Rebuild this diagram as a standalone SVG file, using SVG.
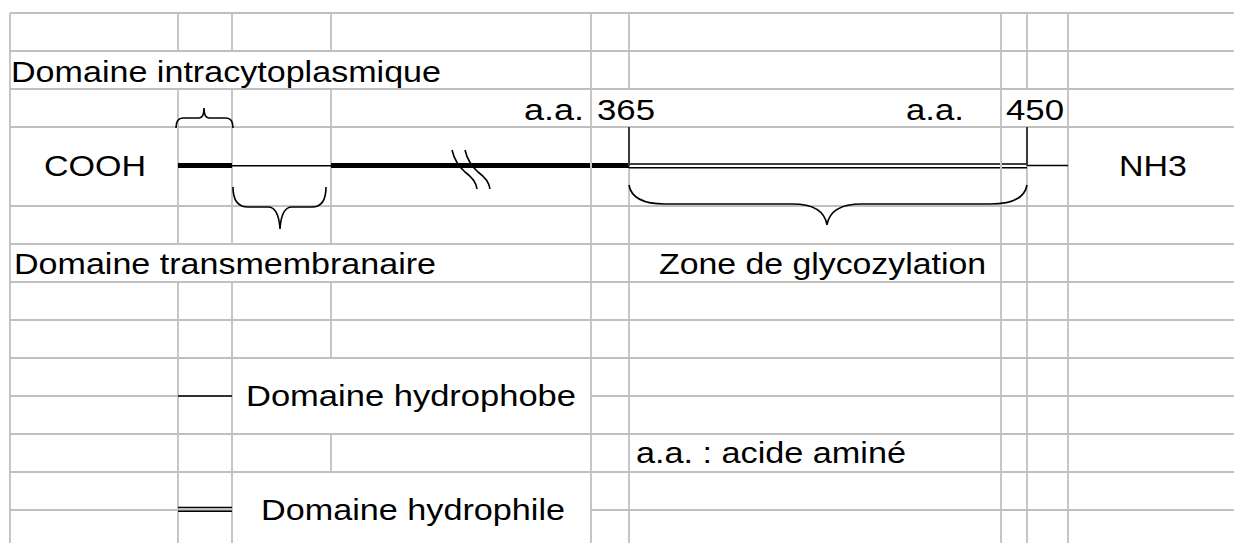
<svg xmlns="http://www.w3.org/2000/svg" width="1234" height="543" viewBox="0 0 1234 543">
<style>
.g{stroke:#c0c0c0;stroke-width:1.8;fill:none}
.m{fill:#fff;stroke:none}
.k{stroke:#000;fill:none}
.tick{stroke:#3a3a3a;stroke-width:2;fill:none}
text{font-family:"Liberation Sans",Arial,sans-serif;font-size:29px;fill:#000}
</style>
<rect width="1234" height="543" fill="#fff"/>
<g id="grid">
<path class="g" d="M10,13V543M178,13V543M232,13V543M331,13V543M591,13V543M629,13V543M1001,13V543M1027,13V543M1068,13V543"/>
<path class="g" d="M10,13H1234M10,51H1234M10,89H1234M10,127H1234M10,206H1234M10,244H1234M10,282H1234M10,320H1234M10,358H1234M10,396H1234M10,434H1234M10,472H1234M10,510H1234"/>
<rect class="m" x="12" y="52" width="437" height="36"/>
<rect class="m" x="620" y="90" width="20" height="36"/>
<rect class="m" x="1020" y="90" width="14" height="36"/>
<rect class="m" x="12" y="245" width="437" height="36"/>
<rect class="m" x="233" y="359" width="357" height="74"/>
<rect class="m" x="233" y="473" width="357" height="70"/>
</g>
<g id="connectors">
<line class="k" x1="178" y1="165.5" x2="232" y2="165.5" stroke-width="5"/>
<line class="k" x1="232" y1="165.7" x2="331" y2="165.7" stroke-width="1.6"/>
<line class="k" x1="331" y1="165.5" x2="590" y2="165.5" stroke-width="5"/>
<line class="k" x1="592" y1="165.5" x2="629" y2="165.5" stroke-width="5"/>
<path class="k" stroke-width="1.6" d="M629,164H1000M1002,164H1027M629,167.8H1000M1002,167.8H1027"/>
<line class="k" x1="1027" y1="165.5" x2="1068" y2="165.5" stroke-width="1.6"/>
<path class="tick" d="M629,127V166M1027,127V166"/>
<path class="k" stroke-width="1.6" d="M452,150 Q455,163 465,172 Q476,180 477,189"/>
<path class="k" stroke-width="1.6" d="M465,150 Q468,163 478,172 Q489,180 490,189"/>
<path class="k" stroke-width="1.6" d="M176,128 C176,121 178,118 183,118 L199,118 C202,118 204,114 204,108 C204,114 206,118 209,118 L226,118 C231,118 233,121 233,128"/>
<path class="k" stroke-width="1.6" d="M233,187 C233,200 238,207 248,207 L268,207 C275,207 279,213 280,229 C281,213 285,207 292,207 L312,207 C322,207 326,200 326,187"/>
<path class="k" stroke-width="1.6" d="M629,185 C631,197 642,204 665,204 L792,204 C815,204 825,212 827,225 C829,212 839,204 862,204 L990,204 C1013,204 1025,197 1027,185"/>
<line class="k" x1="178" y1="396" x2="232" y2="396" stroke-width="1.6"/>
<path class="k" stroke-width="1.6" d="M178,507.5H232M178,511.3H232"/>
</g>
<g id="label-intracyto"><text x="11" y="82" textLength="430" lengthAdjust="spacingAndGlyphs">Domaine intracytoplasmique</text></g>
<g id="label-aa1"><text x="524" y="120" textLength="60" lengthAdjust="spacingAndGlyphs">a.a.</text></g>
<g id="label-365"><text x="597" y="120" textLength="58" lengthAdjust="spacingAndGlyphs">365</text></g>
<g id="label-aa2"><text x="906" y="120" textLength="58" lengthAdjust="spacingAndGlyphs">a.a.</text></g>
<g id="label-450"><text x="1006" y="120" textLength="58" lengthAdjust="spacingAndGlyphs">450</text></g>
<g id="label-cooh"><text x="44" y="176" textLength="102" lengthAdjust="spacingAndGlyphs">COOH</text></g>
<g id="label-nh3"><text x="1119" y="176" textLength="68" lengthAdjust="spacingAndGlyphs">NH3</text></g>
<g id="label-transmembr"><text x="14" y="274" textLength="422" lengthAdjust="spacingAndGlyphs">Domaine transmembranaire</text></g>
<g id="label-glyco"><text x="659" y="274" textLength="327" lengthAdjust="spacingAndGlyphs">Zone de glycozylation</text></g>
<g id="legend-hydrophobe"><text x="246" y="406" textLength="330" lengthAdjust="spacingAndGlyphs">Domaine hydrophobe</text></g>
<g id="legend-aa"><text x="636" y="463" textLength="270" lengthAdjust="spacingAndGlyphs">a.a. : acide aminé</text></g>
<g id="legend-hydrophile"><text x="261" y="520" textLength="304" lengthAdjust="spacingAndGlyphs">Domaine hydrophile</text></g>
</svg>
